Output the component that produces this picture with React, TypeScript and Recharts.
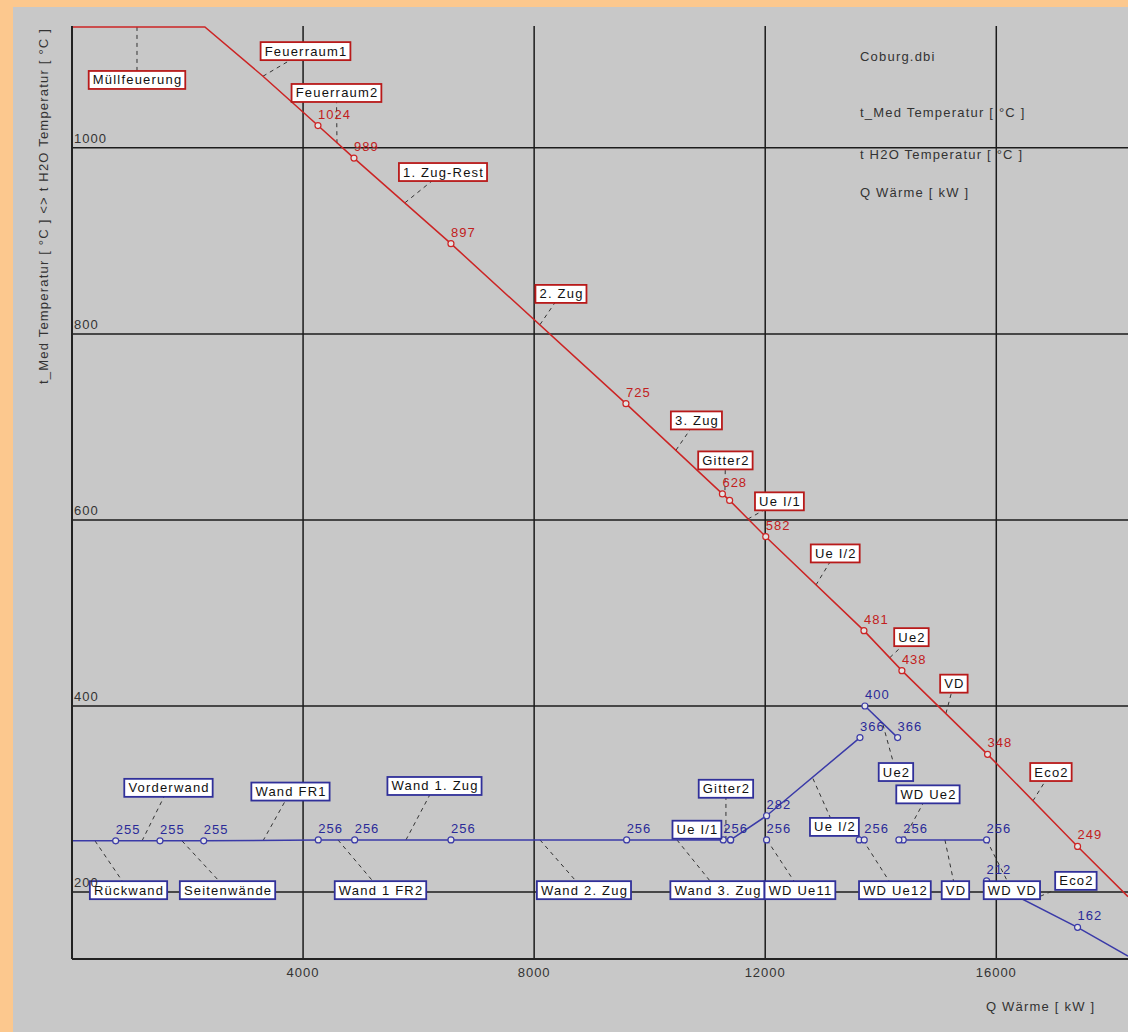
import React from 'react';
import {
  LineChart,
  Line,
  XAxis,
  YAxis,
  ReferenceLine,
  ReferenceDot,
  LabelList,
} from 'recharts';

const FONT = '"Liberation Sans", Arial, sans-serif';
const LS = 1.2;
const RED = '#cc2424';
const RED_TXT = '#c22020';
const RED_BOX = '#b81a1a';
const BLUE = '#3a3aa8';
const BLUE_TXT = '#2a2a98';
const BLUE_BOX = '#30309a';

// t_Med (flue gas) curve
const redQ = [0, 2300, 3306, 4258, 4881, 6560, 9589, 11259, 11384, 12009, 13709, 14366, 15849, 17407, 18280];
const redT = [1130, 1130, 1077, 1024, 989, 897, 725, 628, 621, 582, 481, 438, 348, 249, 195];
const redLab = ['', '', '', '1024', '989', '897', '725', '628', '', '582', '481', '438', '348', '249', ''];
const redMark = [0, 0, 0, 1, 1, 1, 1, 1, 1, 1, 1, 1, 1, 1, 0];

// t H2O segments
const blueAQ = [0, 756, 1523, 2280, 4263, 4893, 6560, 9601, 11273, 11401];
const blueAT = [255, 255, 255, 255, 256, 256, 256, 256, 256, 256];
const blueALab = ['', '255', '255', '255', '256', '256', '256', '256', '256', ''];
const blueAMark = [0, 1, 1, 1, 1, 1, 1, 1, 1, 1];

const blueBQ = [11401, 12024, 13640];
const blueBT = [256, 282, 366];
const blueBLab = ['', '282', '366'];

const blueCQ = [13726, 14292];
const blueCT = [400, 366];
const blueCLab = ['400', '366'];

const blueDQ = [14389, 15832];
const blueDT = [256, 256];
const blueDLab = ['256', '256'];

const blueEQ = [15832, 17407, 18280];
const blueET = [212, 162, 131];
const blueELab = ['212', '162', ''];
const blueEMark = [1, 1, 0];

const bluePtQ = [12024, 13627, 13714, 14314];
const bluePtT = [256, 256, 256, 256];
const bluePtLab = ['256', '', '256', ''];

// callouts on the t_Med curve
const redNotes = ['Müllfeuerung', 'Feuerraum1', 'Feuerraum2', '1. Zug-Rest', '2. Zug', '3. Zug', 'Gitter2', 'Ue I/1', 'Ue I/2', 'Ue2', 'VD', 'Eco2'];
const redNoteQ = [1125, 3306, 4587, 5764, 8101, 10455, 11303, 11701, 12878, 14158, 15128, 16634];
const redNoteT = [1130, 1077, 1005, 941, 810, 675, 632, 601, 530, 452, 392, 298];
const redBoxQ = [1125, 4042, 4578, 6422, 8464, 10809, 11311, 12246, 13212, 14531, 15266, 16946];
const redBoxT = [1073, 1104, 1059, 974, 843, 707, 664, 620, 564, 474, 424, 329];

// callouts on the t H2O segments
const blueNotes = ['Vorderwand', 'Wand FR1', 'Wand 1. Zug', 'Gitter2', 'Ue I/1', 'Ue I/2', 'Ue2', 'WD Ue2', 'Rückwand', 'Seitenwände', 'Wand 1 FR2', 'Wand 2. Zug', 'Wand 3. Zug', 'WD Ue11', 'WD Ue12', 'VD', 'WD VD', 'Eco2'];
const blueNoteQ = [1212, 3306, 5781, 11320, 11273, 12826, 14038, 14389, 398, 1904, 4604, 8101, 10472, 12030, 13691, 15111, 15832, 16634];
const blueNoteT = [255, 255, 256, 256, 256, 322, 380, 256, 255, 255, 256, 256, 256, 256, 256, 256, 256, 192];
const blueBoxQ = [1670, 3782, 6275, 11320, 10818, 13198, 14263, 14817, 978, 2692, 5340, 8862, 11173, 12601, 14245, 15293, 16270, 17378];
const blueBoxT = [312, 308, 314, 311, 267, 270, 329, 305, 202, 202, 202, 202, 202, 202, 202, 202, 202, 212];

const xTicks = [4000, 8000, 12000, 16000];
const yTicks = [200, 400, 600, 800, 1000];

type Pt = { q: number; t: number; lab: string; m: number };
const toPts = (q: number[], t: number[], lab: string[], m?: number[]): Pt[] =>
  q.map((v, i) => ({ q: v, t: t[i], lab: lab[i], m: m ? m[i] : 1 }));

const redData = toPts(redQ, redT, redLab, redMark);
const blueA = toPts(blueAQ, blueAT, blueALab, blueAMark);
const blueB = toPts(blueBQ, blueBT, blueBLab);
const blueC = toPts(blueCQ, blueCT, blueCLab);
const blueD = toPts(blueDQ, blueDT, blueDLab);
const blueE = toPts(blueEQ, blueET, blueELab, blueEMark);
const bluePts = toPts(bluePtQ, bluePtT, bluePtLab);

let ctx: CanvasRenderingContext2D | null = null;
function textWidth(s: string) {
  if (!ctx) ctx = document.createElement('canvas').getContext('2d');
  if (!ctx) return s.length * 8;
  ctx.font = `13px ${FONT}`;
  return ctx.measureText(s).width + s.length * LS;
}

const dot = (color: string) => (p: any) =>
  p.payload && p.payload.m ? (
    <circle key={`d${p.index}`} cx={p.cx} cy={p.cy} r={3} fill="#e4e4e4" stroke={color} strokeWidth={1.2} />
  ) : (
    <g key={`d${p.index}`} />
  );

const valueLabel = (color: string) => (p: any) =>
  p.value ? (
    <text x={p.x} y={p.y - 7} fill={color} fontSize={13} fontFamily={FONT} letterSpacing={1}>
      {p.value}
    </text>
  ) : null;

const noteBox = (text: string, border: string) => (p: any) => {
  const w = textWidth(text) + 7;
  const h = 18;
  return (
    <g>
      <rect x={p.cx - w / 2} y={p.cy - h / 2} width={w} height={h} fill="#ffffff" stroke={border} strokeWidth={1.8} />
      <text x={p.cx + LS / 2} y={p.cy + 4.5} textAnchor="middle" fill="#111" fontSize={13} fontFamily={FONT} letterSpacing={LS}>
        {text}
      </text>
    </g>
  );
};

const series = (key: string, data: Pt[], color: string, txt: string) => (
  <Line
    key={key}
    data={data}
    dataKey="t"
    stroke={color}
    strokeWidth={1.5}
    dot={dot(color)}
    activeDot={false}
    isAnimationActive={false}
  >
    <LabelList dataKey="lab" content={valueLabel(txt)} />
  </Line>
);

const textStyle: React.CSSProperties = {
  position: 'absolute',
  fontFamily: FONT,
  fontSize: 13,
  letterSpacing: LS,
  color: '#333',
  whiteSpace: 'nowrap',
};

export default function App() {
  const grid = [
    ...xTicks.map((v) => <ReferenceLine key={`gx${v}`} x={v} stroke="#1c1c1c" strokeWidth={1.5} />),
    ...yTicks.map((v) => <ReferenceLine key={`gy${v}`} y={v} stroke="#1c1c1c" strokeWidth={1.5} />),
  ];
  const connectors = [
    ...redNotes.map((n, i) => (
      <ReferenceLine
        key={`rc${i}`}
        segment={[{ x: redNoteQ[i], y: redNoteT[i] }, { x: redBoxQ[i], y: redBoxT[i] }]}
        stroke="#333"
        strokeDasharray="4 4"
      />
    )),
    ...blueNotes.map((n, i) => (
      <ReferenceLine
        key={`bc${i}`}
        segment={[{ x: blueNoteQ[i], y: blueNoteT[i] }, { x: blueBoxQ[i], y: blueBoxT[i] }]}
        stroke="#333"
        strokeDasharray="4 4"
      />
    )),
  ];
  const boxes = [
    ...redNotes.map((n, i) => (
      <ReferenceDot key={`rb${i}`} x={redBoxQ[i]} y={redBoxT[i]} r={1} shape={noteBox(n, RED_BOX)} />
    )),
    ...blueNotes.map((n, i) => (
      <ReferenceDot key={`bb${i}`} x={blueBoxQ[i]} y={blueBoxT[i]} r={1} shape={noteBox(n, BLUE_BOX)} />
    )),
  ];

  return (
    <div
      style={{
        position: 'absolute',
        left: 0,
        top: 0,
        width: 1128,
        height: 1032,
        background: '#c8c8c8',
        overflow: 'hidden',
      }}
    >
      <div style={{ position: 'absolute', left: 0, top: 0, width: 1128, height: 7, background: '#fcc88e' }} />
      <div style={{ position: 'absolute', left: 0, top: 0, width: 13, height: 1032, background: '#fcc88e' }} />
      <div style={{ position: 'absolute', left: 0, top: 0 }}>
        <LineChart width={1128} height={1032} margin={{ top: 26, right: 0, left: 71, bottom: 0 }}>
          <XAxis
            dataKey="q"
            type="number"
            domain={[0, 18280]}
            ticks={xTicks}
            allowDataOverflow
            height={73}
            axisLine={{ stroke: '#222', strokeWidth: 2 }}
            tickLine={false}
            tick={(p: any) => (
              <text x={p.x} y={977} textAnchor="middle" fill="#333" fontSize={13} fontFamily={FONT} letterSpacing={1}>
                {p.payload.value}
              </text>
            )}
          />
          <YAxis
            type="number"
            domain={[128, 1131]}
            ticks={yTicks}
            allowDataOverflow
            width={1}
            axisLine={{ stroke: '#222', strokeWidth: 2 }}
            tickLine={false}
            tick={(p: any) => (
              <text x={74} y={p.y - 5} textAnchor="start" fill="#333" fontSize={13} fontFamily={FONT} letterSpacing={1}>
                {p.payload.value}
              </text>
            )}
          />
          {grid}
          {connectors}
          {series('red', redData, RED, RED_TXT)}
          {series('blueA', blueA, BLUE, BLUE_TXT)}
          {series('blueB', blueB, BLUE, BLUE_TXT)}
          {series('blueC', blueC, BLUE, BLUE_TXT)}
          {series('blueD', blueD, BLUE, BLUE_TXT)}
          {series('blueE', blueE, BLUE, BLUE_TXT)}
          <Line
            data={bluePts}
            dataKey="t"
            stroke="none"
            dot={dot(BLUE)}
            activeDot={false}
            isAnimationActive={false}
          >
            <LabelList dataKey="lab" content={valueLabel(BLUE_TXT)} />
          </Line>
          {boxes}
        </LineChart>
      </div>
      <div style={{ ...textStyle, left: 860, top: 49 }}>Coburg.dbi</div>
      <div style={{ ...textStyle, left: 860, top: 105 }}>t_Med Temperatur [ °C ]</div>
      <div style={{ ...textStyle, left: 860, top: 147 }}>t H2O Temperatur [ °C ]</div>
      <div style={{ ...textStyle, left: 860, top: 185 }}>Q Wärme [ kW ]</div>
      <div style={{ ...textStyle, left: 986, top: 999 }}>Q Wärme [ kW ]</div>
      <div
        style={{
          ...textStyle,
          left: 43,
          top: 206,
          transform: 'translate(-50%, -50%) rotate(-90deg)',
        }}
      >
        t_Med Temperatur [ °C ] &lt;&gt; t H2O Temperatur [ °C ]
      </div>
    </div>
  );
}
